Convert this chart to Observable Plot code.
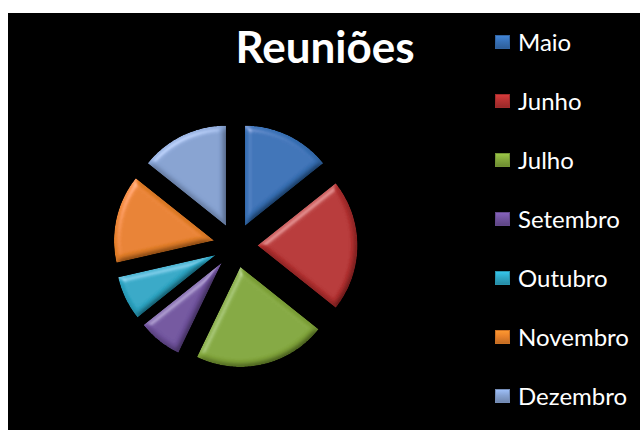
<!DOCTYPE html>
<html>
<head>
<meta charset="utf-8">
<script src="https://cdn.jsdelivr.net/npm/d3@7"></script>
<script src="https://cdn.jsdelivr.net/npm/@observablehq/plot@0.6"></script>
<style>
  html, body { margin: 0; padding: 0; background: #ffffff; width: 640px; height: 430px; overflow: hidden; }
  #chart { position: absolute; left: 8px; top: 13px; width: 632px; height: 417px; background: #000000; }
  #chart svg { position: absolute; left: 0; top: 0; }
  #title { position: absolute; left: 0; width: 634px; top: 8px; text-align: center; color: #ffffff;
           font-family: Lato, "Open Sans", sans-serif; font-weight: 700; font-size: 44px; line-height: 50px; }
  #legend { position: absolute; left: 487px; top: 14px; }
  .item { position: relative; height: 59px; }
  .sw { position: absolute; left: 0; top: 8px; width: 15px; height: 14px; }
  .lb { position: absolute; left: 23px; top: 0px; color: #ffffff; font-family: Lato, "Open Sans", sans-serif;
        font-size: 24px; line-height: 30px; white-space: nowrap; }
</style>
</head>
<body>
<div id="chart">
  <div id="title">Reuniões</div>
  <div id="legend"></div>
</div>
<script>
const months = ["Maio", "Junho", "Julho", "Setembro", "Outubro", "Novembro", "Dezembro"];
const reunioes = [2, 3, 3, 1, 1, 2, 2];
const colors = ["#3872b8", "#b83232", "#84a93c", "#7254a0", "#2ea9c8", "#ea822a", "#87a3d3"];

const explode = 0.22;
const arcs = d3.pie().sort(null).value(d => d)(reunioes);
const pts = [];
arcs.forEach((a, i) => {
  const mid = (a.startAngle + a.endAngle) / 2;
  const ox = explode * Math.sin(mid), oy = explode * Math.cos(mid);
  pts.push({month: months[i], x: ox, y: oy});
  const n = Math.max(4, Math.ceil((a.endAngle - a.startAngle) * 60));
  for (let k = 0; k <= n; k++) {
    const t = a.startAngle + (a.endAngle - a.startAngle) * k / n;
    pts.push({month: months[i], x: ox + Math.sin(t), y: oy + Math.cos(t)});
  }
});

const plot = Plot.plot({
  width: 632,
  height: 417,
  margin: 0,
  style: {background: "transparent"},
  x: {domain: [-2.27, 4.05], axis: null},
  y: {domain: [-1.85, 2.32], axis: null},
  color: {domain: months, range: colors},
  marks: [
    Plot.line(pts, {x: "x", y: "y", z: "month", fill: "month", stroke: "none", curve: "linear-closed"})
  ]
});

const ns = "http://www.w3.org/2000/svg";
const defs = document.createElementNS(ns, "defs");
defs.innerHTML = `
<filter id="bevel" x="-10%" y="-10%" width="120%" height="120%">
  <feGaussianBlur in="SourceAlpha" stdDeviation="3" result="blur"/>
  <feSpecularLighting in="blur" surfaceScale="4" specularConstant="0.45" specularExponent="22" lighting-color="#ffffff" result="spec">
    <feDistantLight azimuth="235" elevation="35"/>
  </feSpecularLighting>
  <feComposite in="spec" in2="SourceAlpha" operator="in" result="specIn"/>
  <feDiffuseLighting in="blur" surfaceScale="4" diffuseConstant="1" lighting-color="#ffffff" result="diff">
    <feDistantLight azimuth="235" elevation="60"/>
  </feDiffuseLighting>
  <feComposite in="diff" in2="SourceAlpha" operator="in" result="diffIn"/>
  <feComposite in="SourceGraphic" in2="diffIn" operator="arithmetic" k1="1.12" k2="0" k3="0" k4="0" result="shaded"/>
  <feComposite in="shaded" in2="specIn" operator="arithmetic" k1="0" k2="1" k3="0.45" k4="0"/>
</filter>`;
plot.insertBefore(defs, plot.firstChild);
plot.querySelectorAll('g[aria-label="line"]').forEach(g => g.setAttribute("filter", "url(#bevel)"));
document.getElementById("chart").insertBefore(plot, document.getElementById("title"));

const legend = document.getElementById("legend");
months.forEach((m, i) => {
  const c = d3.color(colors[i]);
  const item = document.createElement("div");
  item.className = "item";
  const sw = document.createElement("div");
  sw.className = "sw";
  sw.style.background = `linear-gradient(to bottom, ${c.brighter(0.5)} 0%, ${c} 45%, ${c.darker(0.6)} 100%)`;
  sw.style.boxShadow = `inset 0 0 0 1px ${c.darker(0.4)}`;
  const lb = document.createElement("div");
  lb.className = "lb";
  lb.textContent = m;
  item.appendChild(sw);
  item.appendChild(lb);
  legend.appendChild(item);
});
</script>
</body>
</html>
